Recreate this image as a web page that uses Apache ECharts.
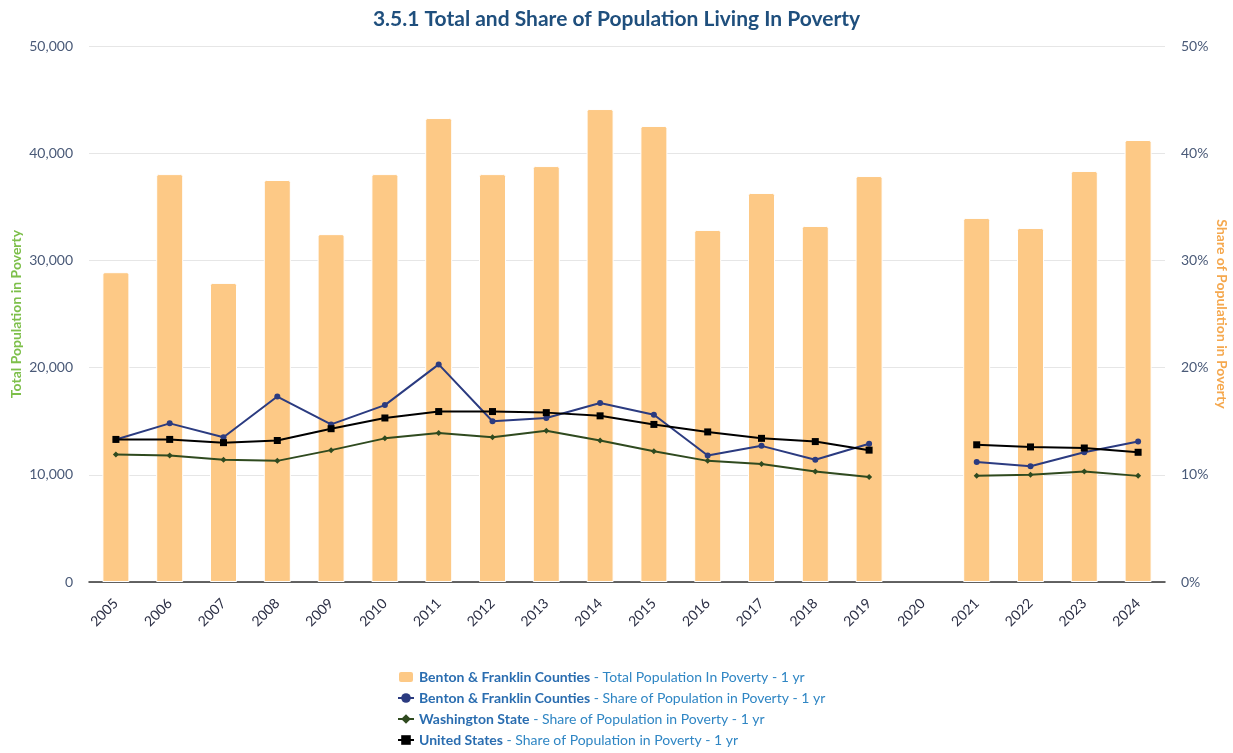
<!DOCTYPE html>
<html>
<head>
<meta charset="utf-8">
<script src="https://cdn.jsdelivr.net/npm/echarts@6/dist/echarts.min.js"></script>
<style>
  html, body { margin: 0; padding: 0; background: #fff; }
  #chart { width: 1233px; height: 753px; }
</style>
</head>
<body>
<div id="chart"></div>
<script>
// years on the x axis (2020 has no data)
var years = ['2005','2006','2007','2008','2009','2010','2011','2012','2013','2014',
             '2015','2016','2017','2018','2019','2020','2021','2022','2023','2024'];

// Benton & Franklin Counties - total population in poverty
var bfTotal = [28900, 38050, 27900, 37500, 32450, 38050, 43280, 38050, 38800, 44120,
               42540, 32840, 36290, 33210, 37870, null, 33960, 33020, 38340, 41230];

// share of population in poverty (%)
var bfShare = [13.3, 14.8, 13.5, 17.3, 14.7, 16.5, 20.3, 15.0, 15.3, 16.7,
               15.6, 11.8, 12.7, 11.4, 12.9, null, 11.2, 10.8, 12.1, 13.1];
var waShare = [11.9, 11.8, 11.4, 11.3, 12.3, 13.4, 13.9, 13.5, 14.1, 13.2,
               12.2, 11.3, 11.0, 10.3, 9.8, null, 9.9, 10.0, 10.3, 9.9];
var usShare = [13.3, 13.3, 13.0, 13.2, 14.3, 15.3, 15.9, 15.9, 15.8, 15.5,
               14.7, 14.0, 13.4, 13.1, 12.3, null, 12.8, 12.6, 12.5, 12.1];

var names = [
  'Benton & Franklin Counties - Total Population In Poverty - 1 yr',
  'Benton & Franklin Counties - Share of Population in Poverty - 1 yr',
  'Washington State - Share of Population in Poverty - 1 yr',
  'United States - Share of Population in Poverty - 1 yr'
];

var font = 'Lato, "Open Sans", sans-serif';
var chart = echarts.init(document.getElementById('chart'));

var option = {
  animation: false,
  textStyle: { fontFamily: font },
  title: {
    text: '3.5.1 Total and Share of Population Living In Poverty',
    left: 'center',
    top: 4,
    textStyle: { fontFamily: font, fontSize: 21, fontWeight: 'bold', color: '#1f4f7d' }
  },
  legend: {
    orient: 'vertical',
    left: 397,
    top: 670,
    padding: 0,
    itemGap: 7,
    itemWidth: 16,
    itemHeight: 12,
    data: names,
    formatter: function (name) {
      var i = name.indexOf(' - ');
      return '{b|' + name.slice(0, i) + '}{n|' + name.slice(i) + '}';
    },
    textStyle: {
      fontFamily: font,
      rich: {
        b: { fontFamily: font, fontSize: 14, lineHeight: 14, fontWeight: 'bold', color: '#2a6db0' },
        n: { fontFamily: font, fontSize: 14, lineHeight: 14, color: '#2f86c4' }
      }
    }
  },
  grid: { left: 89, right: 68, top: 46, bottom: 171, outerBoundsMode: 'none' },
  xAxis: {
    type: 'category',
    data: years,
    axisLine: { lineStyle: { color: '#333', width: 1.5 } },
    axisTick: { show: false },
    axisLabel: { rotate: 45, fontFamily: font, fontSize: 14, color: '#2c2f45', margin: 19, interval: 0 }
  },
  yAxis: [
    {
      type: 'value',
      min: 0, max: 50000, interval: 10000,
      name: 'Total Population in Poverty',
      nameLocation: 'middle',
      nameGap: 66,
      nameMoveOverlap: false,
      nameTextStyle: { fontFamily: font, fontSize: 14, fontWeight: 'bold', color: '#7dbf4a' },
      axisLabel: {
        fontFamily: font, fontSize: 14, color: '#4a5a78', margin: 16,
        formatter: function (v) { return v.toLocaleString('en-US'); }
      },
      splitLine: { lineStyle: { color: '#e6e6e6' } },
      axisLine: { show: false },
      axisTick: { show: false }
    },
    {
      type: 'value',
      min: 0, max: 50, interval: 10,
      name: 'Share of Population in Poverty',
      nameLocation: 'middle',
      nameGap: 50,
      nameMoveOverlap: false,
      nameRotate: -90,
      nameTextStyle: { fontFamily: font, fontSize: 14, fontWeight: 'bold', color: '#f5a84e' },
      axisLabel: { fontFamily: font, fontSize: 14, color: '#4a5a78', margin: 16, formatter: '{value}%' },
      splitLine: { show: false },
      axisLine: { show: false },
      axisTick: { show: false }
    }
  ],
  series: [
    {
      name: names[0],
      type: 'bar',
      data: bfTotal,
      barWidth: 27,
      itemStyle: { color: '#fdc986', borderColor: '#fff', borderWidth: 1, borderRadius: [2, 2, 0, 0] }
    },
    {
      name: names[1],
      type: 'line',
      yAxisIndex: 1,
      data: bfShare,
      symbol: 'circle',
      symbolSize: 6,
      lineStyle: { color: '#2b3b80', width: 2 },
      itemStyle: { color: '#2b3b80' }
    },
    {
      name: names[2],
      type: 'line',
      yAxisIndex: 1,
      data: waShare,
      symbol: 'diamond',
      symbolSize: 6,
      lineStyle: { color: '#2f4a1f', width: 2 },
      itemStyle: { color: '#2f4a1f' }
    },
    {
      name: names[3],
      type: 'line',
      yAxisIndex: 1,
      data: usShare,
      symbol: 'rect',
      symbolSize: 7,
      lineStyle: { color: '#000', width: 2 },
      itemStyle: { color: '#000' }
    }
  ]
};

chart.setOption(option);
</script>
</body>
</html>
